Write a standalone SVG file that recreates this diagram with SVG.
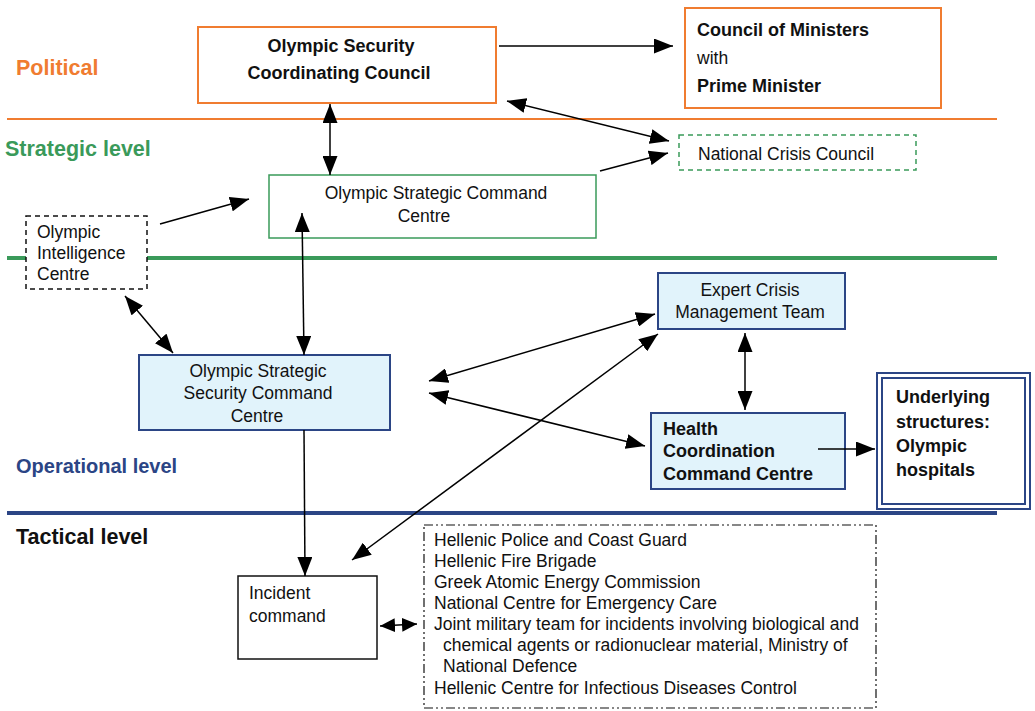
<svg xmlns="http://www.w3.org/2000/svg" width="1035" height="711" viewBox="0 0 1035 711">
<defs>
<marker id="ah" viewBox="0 0 10 10" refX="10" refY="5" markerWidth="19" markerHeight="15" markerUnits="userSpaceOnUse" orient="auto-start-reverse" preserveAspectRatio="none">
<path d="M0,0 L10,5 L0,10 z" fill="#000"/>
</marker>
<marker id="ahs" viewBox="0 0 10 10" refX="10" refY="5" markerWidth="15" markerHeight="14" markerUnits="userSpaceOnUse" orient="auto-start-reverse" preserveAspectRatio="none">
<path d="M0,0 L10,5 L0,10 z" fill="#000"/>
</marker>
</defs>
<style>
text{font-family:"Liberation Sans",Arial,sans-serif;font-size:17.5px;fill:#111}
.b{font-weight:bold;font-size:18px}
.c{text-anchor:middle}
.lvl{font-size:21.5px;font-weight:bold}
.blue{fill:#e1f3fb;stroke:#2b4585;stroke-width:2}
.con line{stroke:#000;stroke-width:1.5}
</style>
<rect width="1035" height="711" fill="#fff"/>
<line x1="7" y1="119" x2="997" y2="119" stroke="#f07c30" stroke-width="2"/>
<line x1="7" y1="258" x2="997" y2="258" stroke="#3a9a5a" stroke-width="4"/>
<line x1="7" y1="513" x2="997" y2="513" stroke="#2b4585" stroke-width="4"/>
<text x="16" y="75" class="lvl" style="fill:#f07c30">Political</text>
<text x="5" y="156" class="lvl" style="fill:#3a9a5a">Strategic level</text>
<text x="16" y="473" class="lvl" style="fill:#2b4585;font-size:20px">Operational level</text>
<text x="16" y="544" class="lvl" style="fill:#111">Tactical level</text>

<g id="oscc">
<rect x="198" y="27" width="298" height="76" fill="#fff" stroke="#f07c30" stroke-width="2"/>
<text x="341" y="52" class="b c">Olympic Security</text>
<text x="339" y="79" class="b c">Coordinating Council</text>
</g>
<g id="council">
<rect x="685" y="8" width="256" height="100" fill="#fff" stroke="#f07c30" stroke-width="2"/>
<text x="697" y="36" class="b">Council of Ministers</text>
<text x="697" y="64">with</text>
<text x="697" y="92" class="b">Prime Minister</text>
</g>
<g id="ncc">
<rect x="679" y="135" width="237" height="35" fill="#fff" stroke="#3a9a5a" stroke-width="1.5" stroke-dasharray="5,4"/>
<text x="698" y="160">National Crisis Council</text>
</g>
<g id="oscomc">
<rect x="269" y="175" width="327" height="63" fill="#fff" stroke="#3a9a5a" stroke-width="1.5"/>
<text x="436" y="199" class="c">Olympic Strategic Command</text>
<text x="424" y="222" class="c">Centre</text>
</g>
<g id="oic">
<rect x="26" y="216" width="121" height="73" fill="#fff" stroke="#111" stroke-width="1.5" stroke-dasharray="5,4"/>
<text x="37" y="238">Olympic</text>
<text x="37" y="259">Intelligence</text>
<text x="37" y="280">Centre</text>
</g>
<g id="osscc">
<rect x="139" y="355" width="251" height="75" class="blue"/>
<text x="258" y="377" class="c">Olympic Strategic</text>
<text x="258" y="399" class="c">Security Command</text>
<text x="257" y="422" class="c">Centre</text>
</g>
<g id="ecmt">
<rect x="658" y="273" width="187" height="56" class="blue"/>
<text x="750" y="296" class="c">Expert Crisis</text>
<text x="750" y="318" class="c">Management Team</text>
</g>
<g id="hccc">
<rect x="651" y="413" width="194" height="76" class="blue"/>
<text x="663" y="435" class="b">Health</text>
<text x="663" y="457" class="b">Coordination</text>
<text x="663" y="480" class="b">Command Centre</text>
</g>
<g id="underlying">
<rect x="877" y="373" width="153" height="136" fill="#fff" stroke="#2b4585" stroke-width="2"/>
<rect x="882" y="378" width="143" height="126" fill="none" stroke="#2b4585" stroke-width="2"/>
<text x="896" y="403" class="b">Underlying</text>
<text x="896" y="428" class="b">structures:</text>
<text x="896" y="452" class="b">Olympic</text>
<text x="896" y="476" class="b">hospitals</text>
</g>
<g id="incident">
<rect x="238" y="576" width="139" height="83" fill="#fff" stroke="#111" stroke-width="1.5"/>
<text x="249" y="599">Incident</text>
<text x="249" y="622">command</text>
</g>
<g id="agencies">
<rect x="424" y="525" width="452" height="183" fill="#fff" stroke="#111" stroke-width="1.2" stroke-dasharray="9,3,2,3,2,3"/>
<text x="434" y="546">Hellenic Police and Coast Guard</text>
<text x="434" y="567">Hellenic Fire Brigade</text>
<text x="434" y="588">Greek Atomic Energy Commission</text>
<text x="434" y="609">National Centre for Emergency Care</text>
<text x="434" y="630">Joint military team for incidents involving biological and</text>
<text x="443" y="651">chemical agents or radionuclear material, Ministry of</text>
<text x="443" y="672">National Defence</text>
<text x="434" y="694">Hellenic Centre for Infectious Diseases Control</text>
</g>

<g id="connectors" class="con">
<line x1="499" y1="46" x2="673" y2="46" marker-end="url(#ah)"/>
<line x1="330" y1="104" x2="330" y2="175" marker-start="url(#ah)" marker-end="url(#ah)"/>
<line x1="507" y1="101" x2="669" y2="141" marker-start="url(#ah)" marker-end="url(#ah)"/>
<line x1="600" y1="171" x2="668" y2="153" marker-end="url(#ah)"/>
<line x1="160" y1="224" x2="249" y2="199" marker-end="url(#ah)"/>
<line x1="302" y1="213" x2="304" y2="355" marker-start="url(#ah)" marker-end="url(#ah)"/>
<line x1="125" y1="296" x2="173" y2="353" marker-start="url(#ah)" marker-end="url(#ah)"/>
<line x1="429" y1="381" x2="655" y2="314" marker-start="url(#ah)" marker-end="url(#ah)"/>
<line x1="429" y1="393" x2="645" y2="446" marker-start="url(#ah)" marker-end="url(#ah)"/>
<line x1="352" y1="560" x2="658" y2="334" marker-start="url(#ah)" marker-end="url(#ah)"/>
<line x1="745" y1="333" x2="745" y2="410" marker-start="url(#ah)" marker-end="url(#ah)"/>
<line x1="818" y1="449" x2="875" y2="449" marker-end="url(#ah)"/>
<line x1="304" y1="430" x2="305" y2="576" marker-end="url(#ah)"/>
<line x1="380" y1="626" x2="417" y2="624" marker-start="url(#ahs)" marker-end="url(#ahs)"/>
</g>
</svg>
